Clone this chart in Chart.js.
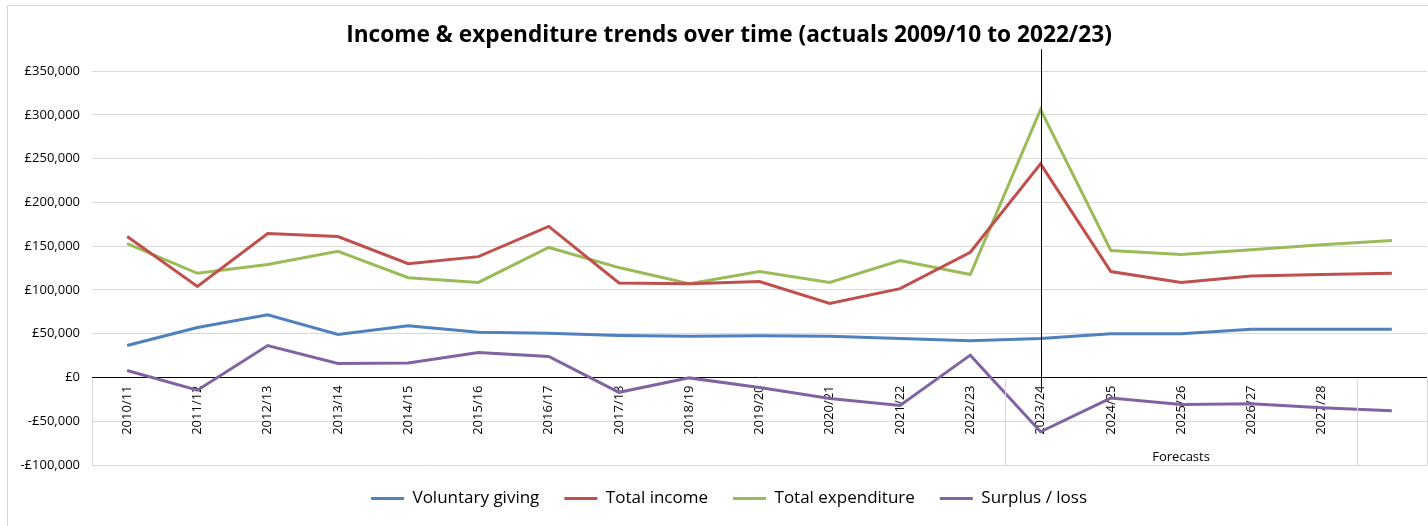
<!DOCTYPE html>
<html>
<head>
<meta charset="utf-8">
<title>Income & expenditure trends</title>
<script src="https://cdn.jsdelivr.net/npm/chart.js@4/dist/chart.umd.min.js"></script>
<style>
  html, body { margin: 0; padding: 0; background: #fff; overflow: hidden; }
  #wrap { width: 1458px; height: 526px; }
</style>
</head>
<body>
<div id="wrap"><canvas id="chart" width="1458" height="526"></canvas></div>
<script>
const categories = [
  "2010/11", "2011/12", "2012/13", "2013/14", "2014/15", "2015/16", "2016/17",
  "2017/18", "2018/19", "2019/20", "2020/21", "2021/22", "2022/23", "2023/24",
  "2024/25", "2025/26", "2026/27", "2027/28", ""
];
const voluntaryGiving = [36500, 57000, 71500, 49000, 59000, 51500, 50500, 48000, 47000, 47500,
  47000, 44500, 42000, 44500, 50000, 50000, 55000, 55000, 55000];
const totalIncome = [161000, 104000, 164500, 161000, 130000, 138000, 172500, 108000, 107000, 109500,
  84500, 101500, 143000, 244000, 121000, 108500, 116000, 117500, 119000];
const totalExpenditure = [153000, 119000, 129000, 144000, 114000, 108500, 148500, 125500, 107000, 121000,
  108500, 133500, 117500, 306000, 145000, 140500, 146000, 151500, 156500];
const surplusLoss = [8000, -14500, 36500, 16000, 16500, 28500, 24000, -17000, -500, -11500,
  -24000, -32000, 25500, -62000, -23500, -31000, -30000, -34500, -38000];

const yTicks = [350000, 300000, 250000, 200000, 150000, 100000, 50000, 0, -50000, -100000];

// category groups on the second axis level
const groups = [
  { label: "", from: 0, to: 12 },
  { label: "Forecasts", from: 13, to: 17 },
  { label: "", from: 18, to: 18 }
];
const markerIndex = 13;          // vertical line at 2023/24
const markerRange = [375000, -15000];

const FONT = "'Open Sans', 'Noto Sans', sans-serif";
const GRID = "#d9d9d9";

function money(v) {
  const s = "£" + Math.abs(v).toLocaleString("en-GB");
  return v < 0 ? "-" + s : s;
}

const extras = {
  id: "extras",
  beforeDraw(chart) {
    const ctx = chart.ctx;
    ctx.save();
    ctx.strokeStyle = GRID;
    ctx.lineWidth = 1;
    ctx.strokeRect(7.5, 5.5, chart.width - 15, 600);
    ctx.restore();
  },
  afterDatasetsDraw(chart) {
    const { ctx, chartArea } = chart;
    const x = chart.scales.x, y = chart.scales.y;
    const y0 = Math.round(y.getPixelForValue(0)) + 0.5;
    const yb = Math.round(y.getPixelForValue(yTicks[yTicks.length - 1])) + 0.5;
    ctx.save();
    ctx.strokeStyle = GRID;
    ctx.lineWidth = 1;
    const edges = [chartArea.left];
    groups.forEach((g, i) => {
      if (i < groups.length - 1) {
        edges.push((x.getPixelForValue(g.to) + x.getPixelForValue(g.to + 1)) / 2);
      }
    });
    edges.push(chartArea.right);
    ctx.beginPath();
    edges.forEach(e => {
      const px = Math.round(e) + 0.5;
      ctx.moveTo(px, y0 + 1);
      ctx.lineTo(px, yb);
    });
    ctx.stroke();

    ctx.fillStyle = "#000";
    ctx.font = "13px " + FONT;
    ctx.textAlign = "center";
    ctx.textBaseline = "middle";
    groups.forEach(g => {
      if (!g.label) return;
      const cx = (x.getPixelForValue(g.from) + x.getPixelForValue(g.to)) / 2;
      ctx.fillText(g.label, cx, yb - 8);
    });

    const mx = Math.round(x.getPixelForValue(markerIndex)) + 0.5;
    ctx.strokeStyle = "#000";
    ctx.beginPath();
    ctx.moveTo(mx, y.getPixelForValue(markerRange[0]));
    ctx.lineTo(mx, y.getPixelForValue(markerRange[1]));
    ctx.stroke();
    ctx.restore();
  }
};

function series(label, data, color) {
  return {
    label, data,
    borderColor: color,
    backgroundColor: color,
    borderWidth: 3,
    pointRadius: 0,
    pointHoverRadius: 0,
    tension: 0
  };
}

new Chart(document.getElementById("chart"), {
  type: "line",
  data: {
    labels: categories,
    datasets: [
      series("Voluntary giving", voluntaryGiving, "#4F81BD"),
      series("Total income", totalIncome, "#C0504D"),
      series("Total expenditure", totalExpenditure, "#9BBB59"),
      series("Surplus / loss", surplusLoss, "#8064A2")
    ]
  },
  options: {
    responsive: false,
    animation: false,
    devicePixelRatio: 1,
    layout: { padding: { left: 0, right: 0, top: 0, bottom: 9 } },
    plugins: {
      title: {
        display: true,
        text: "Income & expenditure trends over time (actuals 2009/10 to 2022/23)",
        color: "#000",
        font: { family: FONT, size: 22.7, weight: "bold", lineHeight: 1.2 },
        padding: { top: 21.5, bottom: 22.3 }
      },
      legend: {
        position: "bottom",
        labels: {
          color: "#000",
          font: { family: FONT, size: 17 },
          usePointStyle: true,
          pointStyle: "line",
          pointStyleWidth: 33,
          boxHeight: 17,
          padding: 25
        }
      },
      tooltip: { enabled: false }
    },
    scales: {
      x: {
        type: "category",
        offset: true,
        position: { y: 0 },
        afterFit(scale) { scale.height = 0; },
        grid: { display: false, drawTicks: false },
        border: { display: false },
        ticks: {
          autoSkip: false,
          minRotation: 90,
          maxRotation: 90,
          padding: 8,
          color: "#000",
          font: { family: FONT, size: 13 }
        }
      },
      y: {
        min: -100000,
        max: 350000,
        afterFit(scale) { scale.width = 92; },
        afterBuildTicks(scale) { scale.ticks = yTicks.map(v => ({ value: v })); },
        grid: {
          drawTicks: false,
          color: ctx => (ctx.tick && ctx.tick.value === 0 ? "#000" : GRID),
          lineWidth: 1
        },
        border: { display: false },
        ticks: {
          padding: 12,
          color: "#000",
          font: { family: FONT, size: 13 },
          callback: v => money(v)
        }
      },
      // empty right margin (the original chart runs past the right edge)
      spacer: {
        type: "linear",
        position: "right",
        afterFit(scale) { scale.width = 31; },
        grid: { display: false, drawTicks: false },
        border: { display: false },
        ticks: { display: false }
      }
    }
  },
  plugins: [extras]
});
</script>
</body>
</html>
